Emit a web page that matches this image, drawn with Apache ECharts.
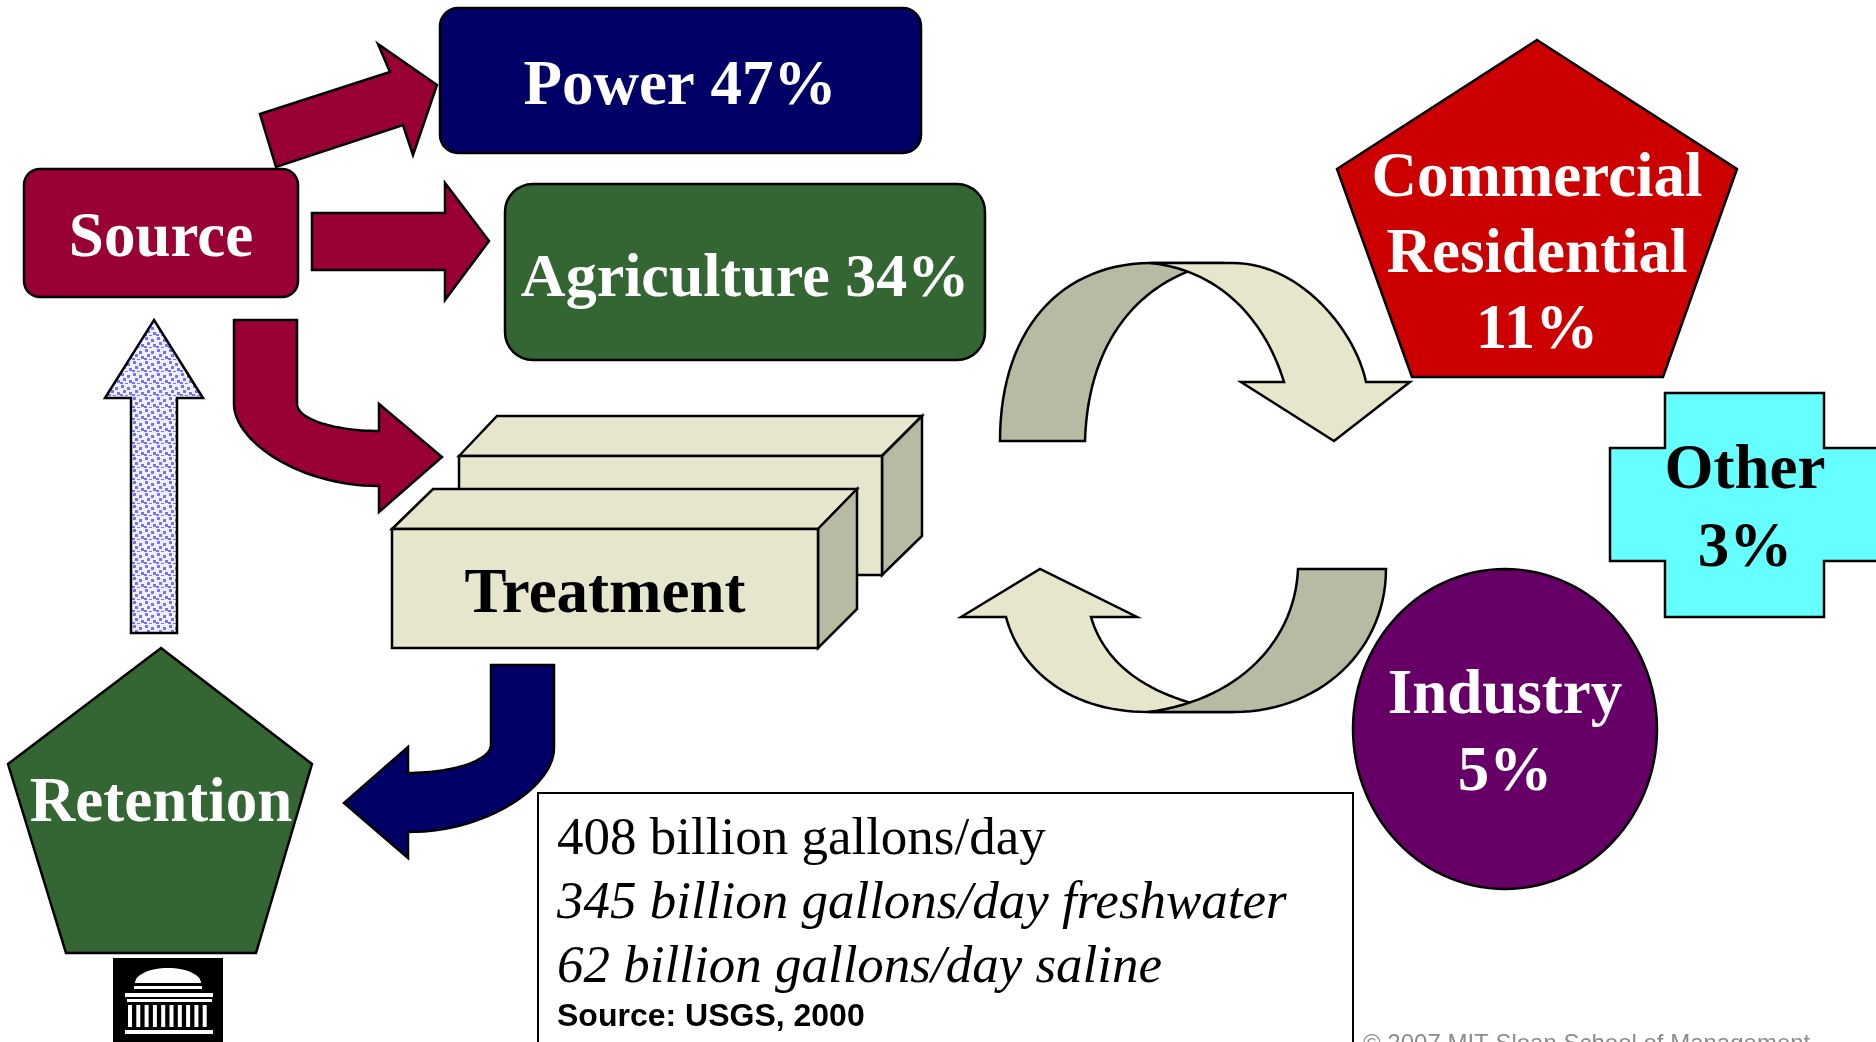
<!DOCTYPE html>
<html>
<head>
<meta charset="utf-8">
<script src="https://cdn.jsdelivr.net/npm/echarts@6/dist/echarts.min.js"></script>
<style>
  html, body { margin: 0; padding: 0; background: #fff; }
  #chart { width: 1876px; height: 1042px; }
</style>
</head>
<body>
<div id="chart"></div>
<script>
// water use by sector (USGS 2000)
const sectors = ['Power', 'Agriculture', 'Commercial\nResidential', 'Industry', 'Other'];
const shares = [47, 34, 11, 5, 3];
const stages = ['Source', 'Treatment', 'Retention'];
const volumeLines = ['408 billion gallons/day', '345 billion gallons/day freshwater', '62 billion gallons/day saline'];
const sourceNote = 'Source: USGS, 2000';
const copyright = '\u00a9 2007 MIT Sloan School of Management';

const serif = '"Liberation Serif", "Times New Roman", serif';
const sans = '"Liberation Sans", Arial, sans-serif';
const edge = { stroke: '#000', lineWidth: 2.5 };

function bez(p0, p1, p2, p3, n) {
  n = n || 30;
  const pts = [];
  for (let i = 1; i <= n; i++) {
    const t = i / n, u = 1 - t;
    const a = u * u * u, b = 3 * u * u * t, c = 3 * u * t * t, d = t * t * t;
    pts.push([a * p0[0] + b * p1[0] + c * p2[0] + d * p3[0], a * p0[1] + b * p1[1] + c * p2[1] + d * p3[1]]);
  }
  return pts;
}

function ellipsePts(cx, cy, rx, ry, a0, a1, n) {
  const pts = [];
  for (let i = 0; i <= n; i++) {
    const a = a0 + (a1 - a0) * i / n;
    pts.push([cx + rx * Math.cos(a), cy + ry * Math.sin(a)]);
  }
  return pts;
}

function poly(points, fill, z, extra) {
  return { type: 'polygon', z: z || 1, shape: { points }, style: Object.assign({ fill }, edge, extra || {}) };
}

function label(x, y, text, o) {
  return {
    type: 'text', x, y, z: 20,
    style: Object.assign({
      text, fill: '#fff', font: 'bold 63px ' + serif,
      align: 'center', verticalAlign: 'middle', textAlign: 'center', textVerticalAlign: 'middle'
    }, o || {})
  };
}

// dotted fill for the retention -> source arrow
const tile = document.createElement('canvas');
tile.width = 12; tile.height = 12;
const tc = tile.getContext('2d');
tc.fillStyle = '#f0f0ff'; tc.fillRect(0, 0, 12, 12);
tc.fillStyle = '#7373ff';
[[1, 1], [7, 3], [3, 6], [9, 8], [0, 10], [5, 11]].forEach(p => tc.fillRect(p[0], p[1], 3, 3));

const maroon = '#990033', navy = '#000066', green = '#336633';
const beige = '#e6e6cc', beigeDark = '#b9baa4';

// bent arrow source -> treatment
const bendA = [[234, 320], [297, 320], [297, 404]]
  .concat(bez([297, 404], [297, 419], [334, 431], [379, 431]))
  .concat([[379, 404], [442, 457], [379, 512], [379, 486]])
  .concat(bez([379, 486], [299, 486], [234, 441], [234, 404]));

// bent arrow treatment -> retention
const bendB = [[491, 665], [554, 665], [554, 748]]
  .concat(bez([554, 748], [554, 786], [488, 832], [408, 832]))
  .concat([[408, 858], [344, 803], [408, 747], [408, 773]])
  .concat(bez([408, 773], [454, 773], [491, 760], [491, 745]));

// upper cycling arrow
const topDark = [[1000, 441], [1085, 441]]
  .concat(bez([1085, 441], [1088, 340], [1140, 280], [1215, 263]))
  .concat([[1150, 263]])
  .concat(bez([1150, 263], [1060, 264], [1000, 330], [1000, 441]));
const topLight = [[1150, 263], [1233, 263]]
  .concat(bez([1233, 263], [1300, 263], [1355, 330], [1366, 382]))
  .concat([[1410, 382], [1334, 441], [1241, 382], [1284, 382]])
  .concat(bez([1284, 382], [1265, 320], [1220, 270], [1150, 263]));

// lower cycling arrow
const lowLight = [[961, 617], [1040, 569], [1137, 617], [1091, 617]]
  .concat(bez([1091, 617], [1105, 665], [1150, 700], [1234, 712]))
  .concat([[1148, 712]])
  .concat(bez([1148, 712], [1070, 712], [1020, 670], [1006, 617]));
const lowDark = [[1298, 569], [1386, 569]]
  .concat(bez([1386, 569], [1386, 650], [1320, 712], [1234, 712]))
  .concat([[1148, 712]])
  .concat(bez([1148, 712], [1240, 700], [1295, 640], [1298, 569]));

// MIT logo pieces
const logo = [
  { type: 'rect', z: 5, shape: { x: 113, y: 958, width: 110, height: 90 }, style: { fill: '#000' } },
  { type: 'polygon', z: 6, shape: { points: ellipsePts(168, 983, 33, 15, Math.PI, 2 * Math.PI, 30) }, style: { fill: '#fff' } },
  { type: 'rect', z: 6, shape: { x: 134, y: 986, width: 68, height: 3 }, style: { fill: '#fff' } },
  { type: 'rect', z: 6, shape: { x: 125, y: 993, width: 88, height: 4 }, style: { fill: '#fff' } },
  { type: 'rect', z: 6, shape: { x: 127, y: 999, width: 85, height: 3 }, style: { fill: '#fff' } },
  { type: 'rect', z: 6, shape: { x: 125, y: 1030, width: 88, height: 4 }, style: { fill: '#fff' } }
];
for (let i = 0; i < 10; i++) {
  logo.push({ type: 'rect', z: 6, shape: { x: 128 + i * 8.3, y: 1005, width: 4, height: 22 }, style: { fill: '#fff' } });
}

const elements = [
  // sector shapes
  { type: 'rect', z: 2, shape: { x: 440, y: 8, width: 481, height: 145, r: 18 }, style: Object.assign({ fill: navy }, edge) },
  { type: 'rect', z: 2, shape: { x: 24, y: 169, width: 274, height: 128, r: 16 }, style: Object.assign({ fill: maroon }, edge) },
  { type: 'rect', z: 2, shape: { x: 505, y: 184, width: 480, height: 176, r: 28 }, style: Object.assign({ fill: green }, edge) },

  // arrows out of source
  poly([[260, 114], [390, 72], [378, 44], [437, 85], [413, 155], [403, 125], [276, 167]], maroon, 2),
  poly([[312, 213], [445, 213], [445, 183], [489, 241], [445, 300], [445, 270], [312, 270]], maroon, 2),
  poly(bendA, maroon, 2),

  // treatment boxes (back then front)
  poly([[459, 456], [497, 416], [922, 416], [882, 456]], beige, 3),
  poly([[882, 456], [922, 416], [922, 536], [882, 575]], beigeDark, 3),
  { type: 'rect', z: 3, shape: { x: 459, y: 456, width: 423, height: 119 }, style: Object.assign({ fill: beige }, edge) },
  poly([[392, 529], [433, 489], [857, 489], [818, 529]], beige, 4),
  poly([[818, 529], [857, 489], [857, 609], [818, 648]], beigeDark, 4),
  { type: 'rect', z: 4, shape: { x: 392, y: 529, width: 426, height: 119 }, style: Object.assign({ fill: beige }, edge) },

  poly(bendB, navy, 2),

  // retention -> source
  poly([[154, 320], [203, 398], [177, 398], [177, 633], [131, 633], [131, 398], [105, 398]], { image: tile, repeat: 'repeat' }, 2),
  poly([[161, 648], [312, 764], [256, 953], [66, 953], [8, 764]], green, 2),

  // cycle arrows
  poly(topDark, beigeDark, 3),
  poly(topLight, beige, 4),
  poly(lowLight, beige, 3),
  poly(lowDark, beigeDark, 4),

  // right-hand sectors
  poly([[1537, 40], [1737, 169], [1663, 377], [1412, 377], [1337, 169]], '#cc0000', 2),
  poly([[1665, 393], [1824, 393], [1824, 448], [1890, 448], [1890, 561], [1824, 561], [1824, 617],
        [1665, 617], [1665, 561], [1610, 561], [1610, 448], [1665, 448]], '#66ffff', 2),
  poly(ellipsePts(1505, 729, 152, 160, 0, 2 * Math.PI, 120), '#660066', 2),

  // volume text box
  { type: 'rect', z: 2, shape: { x: 538, y: 793, width: 815, height: 280 }, style: { fill: '#fff', stroke: '#000', lineWidth: 2 } },

  // labels
  label(680, 88, sectors[0] + ' ' + shares[0] + '%'),
  label(745, 280, sectors[1] + ' ' + shares[1] + '%', { font: 'bold 62px ' + serif }),
  label(1537, 255.5, sectors[2] + '\n' + shares[2] + '%', { lineHeight: 76 }),
  label(1505, 735.5, sectors[3] + '\n' + shares[3] + '%', { lineHeight: 77 }),
  label(1745, 511, sectors[4] + '\n' + shares[4] + '%', { fill: '#000', lineHeight: 78 }),
  label(161, 240, stages[0]),
  label(605, 596, stages[1], { fill: '#000' }),
  label(161, 805, stages[2]),

  label(557, 840, volumeLines[0], { fill: '#000', font: '53px ' + serif, align: 'left', textAlign: 'left' }),
  label(557, 904, volumeLines[1], { fill: '#000', font: 'italic 53px ' + serif, align: 'left', textAlign: 'left' }),
  label(557, 968, volumeLines[2], { fill: '#000', font: 'italic 53px ' + serif, align: 'left', textAlign: 'left' }),
  label(557, 1017, sourceNote, { fill: '#000', font: 'bold 32px ' + sans, align: 'left', textAlign: 'left' }),
  label(1363, 1044, copyright, { fill: '#8c8c8c', font: '24px ' + sans, align: 'left', textAlign: 'left' })
].concat(logo);

const chart = echarts.init(document.getElementById('chart'));
chart.setOption({
  backgroundColor: '#fff',
  animation: false,
  graphic: { elements }
});
</script>
</body>
</html>
